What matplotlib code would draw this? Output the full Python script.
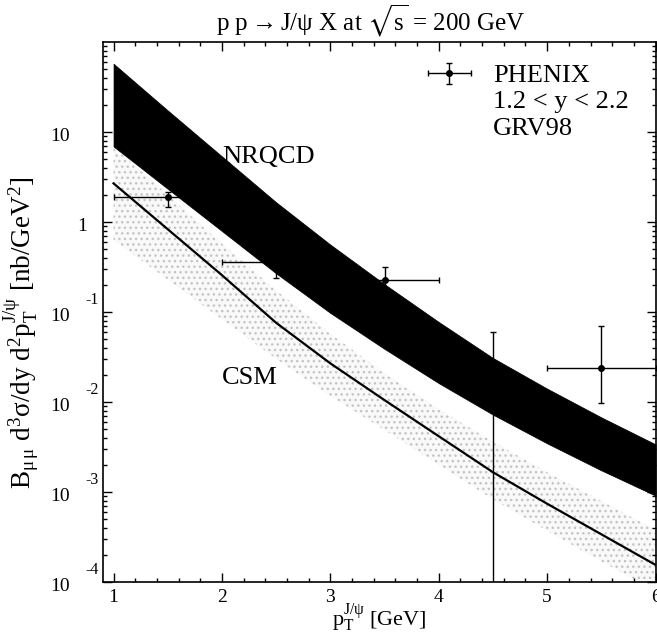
import numpy as np
import matplotlib
matplotlib.use('Agg')
import matplotlib.pyplot as plt
from matplotlib.ticker import MultipleLocator, LogLocator, NullFormatter, FixedLocator
from matplotlib.legend_handler import HandlerErrorbar
from matplotlib import transforms

plt.rcParams['font.family'] = ['Liberation Serif', 'DejaVu Serif']
plt.rcParams['mathtext.fontset'] = 'custom'
plt.rcParams['mathtext.rm'] = 'Liberation Serif'
plt.rcParams['mathtext.it'] = 'Liberation Serif'
plt.rcParams['mathtext.bf'] = 'Liberation Serif:bold'
plt.rcParams['mathtext.sf'] = 'Liberation Serif'
plt.rcParams['mathtext.fallback'] = 'stix'
plt.rcParams['hatch.linewidth'] = 1.0

# ---------------- data ----------------
pt_grid = [1.0, 1.5, 2.0, 2.5, 3.0, 3.5, 4.0, 4.5, 5.0, 5.5, 6.0]

nrqcd_hi = [57.5, 17.4, 5.37, 1.66, 0.562, 0.204, 0.0776, 0.0309, 0.0141, 0.00676, 0.00339]
nrqcd_lo = [6.92, 2.34, 0.794, 0.269, 0.0977, 0.0389, 0.0162, 0.00724, 0.00347, 0.00174, 0.000912]

csm_central = [2.69, 0.832, 0.257, 0.0759, 0.0269, 0.0105, 0.00417, 0.00166, 0.000741, 0.000339, 0.000155]
csm_hi = [6.92, 2.00, 0.575, 0.174, 0.0575, 0.0209, 0.00832, 0.00363, 0.00166, 0.000794, 0.000380]
csm_lo = [0.631, 0.229, 0.0832, 0.0302, 0.0117, 0.00490, 0.00200, 0.000832, 0.000372, 0.000170, 0.0000794]

phenix_pt = [1.5, 2.5, 3.5, 4.5, 5.5]
phenix_pt_lo = [1.0, 2.0, 3.0, 4.5, 5.0]
phenix_pt_hi = [2.0, 3.0, 4.0, 4.5, 6.0]
phenix_y = [1.91, 0.36, 0.227, 0.015, 0.0237]
phenix_y_lo = [1.48, 0.237, 0.14, 0.00001, 0.0098]
phenix_y_hi = [2.17, 0.49, 0.314, 0.06, 0.07]

x_ticks = [1, 2, 3, 4, 5, 6]
y_ticks = [1e-4, 1e-3, 1e-2, 1e-1, 1, 10]
y_tick_base = ['10', '10', '10', '10', '1', '10']
y_tick_exp = ['-4', '-3', '-2', '-1', '', '']

# ---------------- figure ----------------
fig = plt.figure(figsize=(6.57, 6.41), dpi=100)
ax = fig.add_axes([0.1563, 0.0920, 0.8415, 0.8424])
ax.set_yscale('log')
ax.set_xlim(0.90, 6.0)
ax.set_ylim(1e-4, 1e2)

# CSM band (stippled grey)
ax.fill_between(pt_grid, csm_lo, csm_hi, facecolor='#f9f9f9', edgecolor='#c4c4c4',
                hatch='...', linewidth=0, zorder=1)
ax.plot(pt_grid, csm_central, color='black', lw=1.6, zorder=2)

# data
py = np.array(phenix_y)
px = np.array(phenix_pt)
yerr = [py - np.array(phenix_y_lo), np.array(phenix_y_hi) - py]
xerr = [px - np.array(phenix_pt_lo), np.array(phenix_pt_hi) - px]
cont = ax.errorbar(px, py, xerr=xerr, yerr=yerr, fmt='o', color='black', ms=4,
                   lw=1.0, capsize=2.3, capthick=1.0, label='PHENIX', zorder=3)

# NRQCD band (black)
ax.fill_between(pt_grid, nrqcd_lo, nrqcd_hi, facecolor='black', edgecolor='black',
                linewidth=0.5, zorder=4)

# labels inside
ax.text(2.0, 4.56, 'NRQCD', fontsize=19, va='baseline', ha='left', zorder=5)
ax.text(2.0, 0.016, 'CSM', fontsize=19, va='baseline', ha='left', zorder=5)

# legend
leg = ax.legend(handles=[cont], labels=['PHENIX'], loc='center left',
                bbox_to_anchor=(0.5874, 0.9376), frameon=False, fontsize=19,
                borderpad=0, borderaxespad=0, handlelength=1.67, handletextpad=0.82,
                handler_map={type(cont): HandlerErrorbar(xerr_size=0.83, yerr_size=0.39)})
ax.text(0.7065, 0.8778, r'1.2 < y < 2.2', transform=ax.transAxes, fontsize=19, va='baseline')
ax.text(0.7065, 0.8278, 'GRV98', transform=ax.transAxes, fontsize=19, va='baseline')

# ticks
ax.xaxis.set_major_locator(FixedLocator(x_ticks))
ax.xaxis.set_minor_locator(MultipleLocator(0.2))
ax.set_xticklabels([str(t) for t in x_ticks])
ax.yaxis.set_major_locator(FixedLocator(y_ticks))
ax.yaxis.set_minor_locator(LogLocator(base=10, subs=np.arange(2, 10), numticks=50))
ax.yaxis.set_minor_formatter(NullFormatter())
ax.tick_params(which='both', direction='in', top=True, right=True, width=1.0)
ax.tick_params(which='major', length=6.5)
ax.tick_params(which='minor', length=3.2)
ax.tick_params(axis='x', labelsize=14, pad=5)
ax.tick_params(axis='y', labelleft=False)
for s in ax.spines.values():
    s.set_linewidth(1.2)

trans = transforms.blended_transform_factory(ax.transAxes, ax.transData)
tb = transforms.offset_copy(trans, fig=fig, y=-3.5, units='points')
te = transforms.offset_copy(trans, fig=fig, y=9.0, units='points')
for v, b, e in zip(y_ticks, y_tick_base, y_tick_exp):
    xb = -0.0952 if b == '10' else -0.0464
    ax.text(xb, v, b, transform=tb, fontsize=14, ha='left', va='center')
    if e:
        ax.text(-0.032, v, e, transform=te, fontsize=11.5, ha='left', va='center')

# axis labels
ax.set_xlabel(r'p$_{\rm T}^{\rm J/\psi}$ [GeV]', fontsize=16)
ax.xaxis.label.set_va('baseline')
ax.xaxis.set_label_coords(0.5, -0.0815)
ax.set_ylabel(r'B$_{\mu\,\mu}$ d$^{3}\sigma$/dy d$^{2}$p$_{\rm T}^{\rm J/\psi}$ [nb/GeV$^{2}$]',
              fontsize=19.5)
ax.yaxis.set_label_coords(-0.112, 0.461)

# title
ax.text(0.485, 1.0222, r'p p$\rightarrow$J/ψ X at $\sqrt{\rm s}$ = 200 GeV',
        transform=ax.transAxes, fontsize=18, ha='center', va='baseline')

fig.savefig('out.png', dpi=100)
